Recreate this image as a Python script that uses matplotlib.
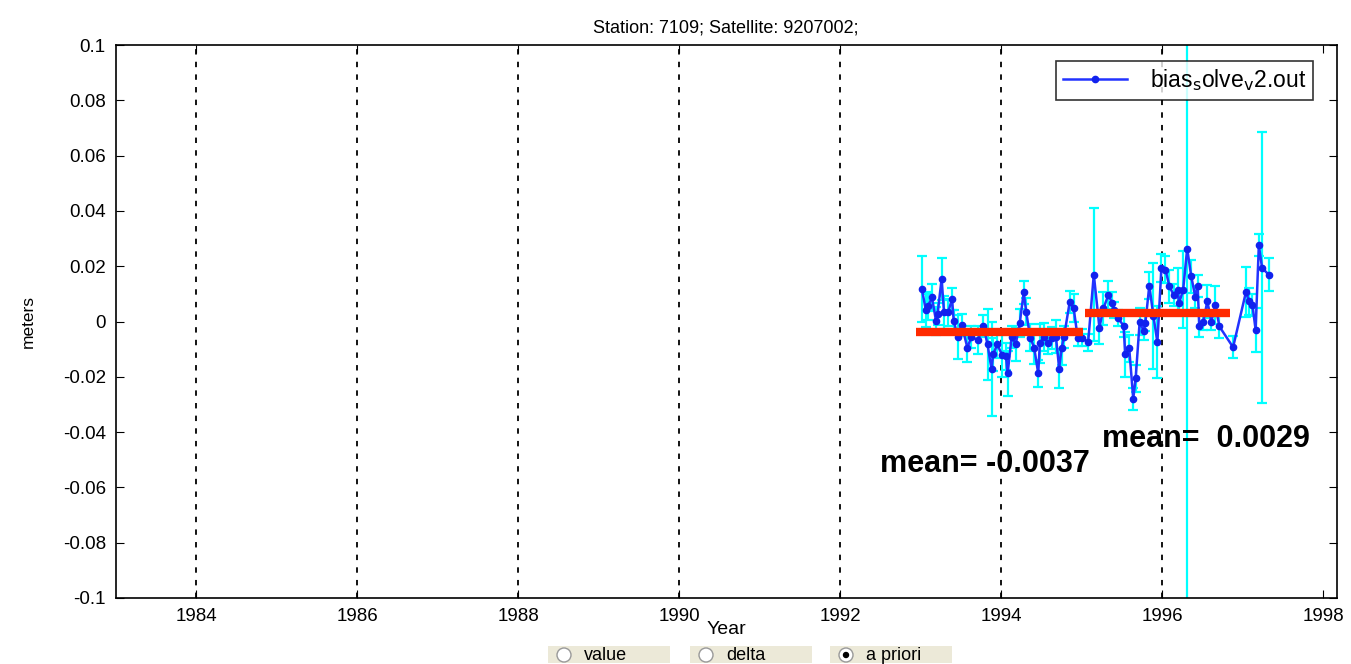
import matplotlib
matplotlib.use("Agg")
import matplotlib.pyplot as plt
from matplotlib.patches import Ellipse

plt.rcParams['font.family'] = ['Liberation Sans', 'DejaVu Sans']

years = [1993.015, 1993.065, 1993.09, 1993.14, 1993.19, 1993.21, 1993.26, 1993.29, 1993.34, 1993.39,
         1993.41, 1993.46, 1993.51, 1993.58, 1993.63, 1993.71, 1993.78, 1993.83, 1993.88, 1993.90,
         1993.95, 1994.01, 1994.06, 1994.08, 1994.13, 1994.18, 1994.23, 1994.28, 1994.31, 1994.36,
         1994.41, 1994.46, 1994.48, 1994.53, 1994.58, 1994.63, 1994.68, 1994.72, 1994.75, 1994.78,
         1994.85, 1994.90, 1994.95, 1995.00, 1995.08,
         1995.15, 1995.22, 1995.27, 1995.33, 1995.38, 1995.40, 1995.45, 1995.52, 1995.54, 1995.59,
         1995.64, 1995.67, 1995.72, 1995.77, 1995.79, 1995.84, 1995.89, 1995.94, 1995.99, 1996.04,
         1996.09, 1996.14, 1996.19, 1996.21, 1996.26, 1996.31, 1996.36, 1996.41, 1996.44, 1996.46,
         1996.51, 1996.56, 1996.61, 1996.66, 1996.71, 1996.88, 1997.04, 1997.08, 1997.12, 1997.16,
         1997.20, 1997.24, 1997.32]
bias = [0.0117, 0.0040, 0.0055, 0.0087, 0.0003, 0.0027, 0.0154, 0.0033, 0.0033, 0.0081,
        0.0003, -0.0055, -0.0012, -0.0095, -0.0055, -0.0067, -0.0016, -0.0083, -0.0172, -0.0119,
        -0.0083, -0.0120, -0.0126, -0.0188, -0.0055, -0.0083, -0.0006, 0.0105, 0.0036, -0.0058,
        -0.0095, -0.0188, -0.0079, -0.0055, -0.0079, -0.0061, -0.0055, -0.0170, -0.0097, -0.0055,
        0.0069, 0.0048, -0.0058, -0.0058, -0.0075,
        0.0170, -0.0022, 0.0048, 0.0095, 0.0067, 0.0042, 0.0012, -0.0015, -0.0119, -0.0097,
        -0.0279, -0.0206, 0.0000, -0.0036, -0.0006, 0.0130, 0.0020, -0.0075, 0.0194, 0.0188,
        0.0127, 0.0097, 0.0115, 0.0067, 0.0115, 0.0264, 0.0164, 0.0090, 0.0127, -0.0015,
        0.0000, 0.0073, 0.0000, 0.0060, -0.0018, -0.0093, 0.0107, 0.0073, 0.0060, -0.0030,
        0.0276, 0.0194, 0.0170]
errs = [0.012, 0.006, 0.005, 0.005, 0.005, 0.004, 0.0075, 0.006, 0.005, 0.004,
        0.004, 0.008, 0.004, 0.005, 0.004, 0.005, 0.004, 0.013, 0.017, 0.006,
        0.005, 0.008, 0.005, 0.008, 0.004, 0.006, 0.005, 0.004, 0.005, 0.005,
        0.006, 0.005, 0.007, 0.005, 0.004, 0.004, 0.006, 0.007, 0.006, 0.004,
        0.004, 0.005, 0.003, 0.003, 0.003,
        0.024, 0.006, 0.006, 0.005, 0.004, 0.003, 0.003, 0.004, 0.008, 0.005,
        0.004, 0.005, 0.005, 0.003, 0.003, 0.005, 0.019, 0.013, 0.005, 0.005,
        0.006, 0.004, 0.008, 0.004, 0.014, 0.2, 0.006, 0.004, 0.004, 0.004,
        0.003, 0.006, 0.003, 0.007, 0.004, 0.004, 0.009, 0.005, 0.004, 0.008,
        0.004, 0.049, 0.006]

mean_starts = [1992.94, 1995.04]
mean_ends = [1995.02, 1996.84]
mean_vals = [-0.0037, 0.0029]
mean_labels = ['mean= -0.0037', 'mean=  0.0029']
mean_label_x = [1992.5, 1995.25]
mean_label_y = [-0.0516, -0.0425]

xticks = [1984, 1986, 1988, 1990, 1992, 1994, 1996, 1998]
yticks = [-0.1, -0.08, -0.06, -0.04, -0.02, 0, 0.02, 0.04, 0.06, 0.08, 0.1]
ytick_labels = ['-0.1', '-0.08', '-0.06', '-0.04', '-0.02', '0', '0.02', '0.04', '0.06', '0.08', '0.1']

fig = plt.figure(figsize=(13.51, 6.64), dpi=100)
ax = fig.add_axes([0.0855, 0.0994, 0.9041, 0.8328])

ax.errorbar(years, bias, yerr=errs, fmt='none', ecolor='#00ffff', elinewidth=1.6,
            capsize=3.5, capthick=1.6, zorder=2)
ax.plot(years, bias, color='#2233ff', lw=1.8, marker='o', ms=4.5, mfc='#1122ee',
        mec='#1122ee', label=r'bias$_{\rm s}$olve$_{\rm v}$2.out', zorder=3)
for s, e, v in zip(mean_starts, mean_ends, mean_vals):
    ax.plot([s, e], [v, v], color='#ff2a00', lw=6, solid_capstyle='butt', zorder=4)
for lx, ly, lt in zip(mean_label_x, mean_label_y, mean_labels):
    ax.text(lx, ly, lt, fontsize=22, fontweight='bold', va='center', ha='left', zorder=5)

for xt in xticks[:-1]:
    ax.axvline(xt, color='black', ls=(0, (3, 4)), lw=1.3, zorder=1)

ax.set_xlim(1983, 1998.17)
ax.set_ylim(-0.1, 0.1)
ax.set_xticks(xticks)
ax.set_yticks(yticks)
ax.set_yticklabels(ytick_labels)
ax.tick_params(direction='in', length=6, labelsize=13.5, top=True, right=True, pad=7)
for sp in ax.spines.values():
    sp.set_linewidth(1.2)

ax.set_title('Station: 7109; Satellite: 9207002;', fontsize=13, pad=9)
ax.set_ylabel('meters', fontsize=12.5)
ax.yaxis.set_label_coords(-0.065, 0.5)
ax.set_xlabel('Year', fontsize=14, labelpad=-3)

leg = ax.legend(loc='upper right', fontsize=16.5, frameon=True, fancybox=False,
                edgecolor='black', handlelength=2.8, borderpad=0.3, handletextpad=1.0,
                borderaxespad=0.0, bbox_to_anchor=(0.9805, 0.972))
leg.get_frame().set_linewidth(1.2)

# radio buttons at bottom
buttons = ['value', 'delta', 'a priori']
bx = [548, 690, 830]
for i, (lab, x0) in enumerate(zip(buttons, bx)):
    fx = x0 / 1351
    fig.patches.append(plt.Rectangle((fx, 1 - 663 / 664), 122 / 1351, 17 / 664,
                                     transform=fig.transFigure, facecolor='#ece9d8',
                                     edgecolor='none', zorder=0))
    cxy = (fx + 16 / 1351, 1 - 655 / 664)
    fig.patches.append(Ellipse(cxy, 14 / 1351, 14 / 664,
                               transform=fig.transFigure, facecolor='white',
                               edgecolor='#999999', lw=1))
    if i == 2:
        fig.patches.append(Ellipse(cxy, 5 / 1351, 5 / 664,
                                   transform=fig.transFigure, facecolor='black',
                                   edgecolor='black'))
    fig.text(fx + 36 / 1351, 1 - 655 / 664, lab, fontsize=13, va='center', ha='left')

fig.savefig('out.png', dpi=100)
